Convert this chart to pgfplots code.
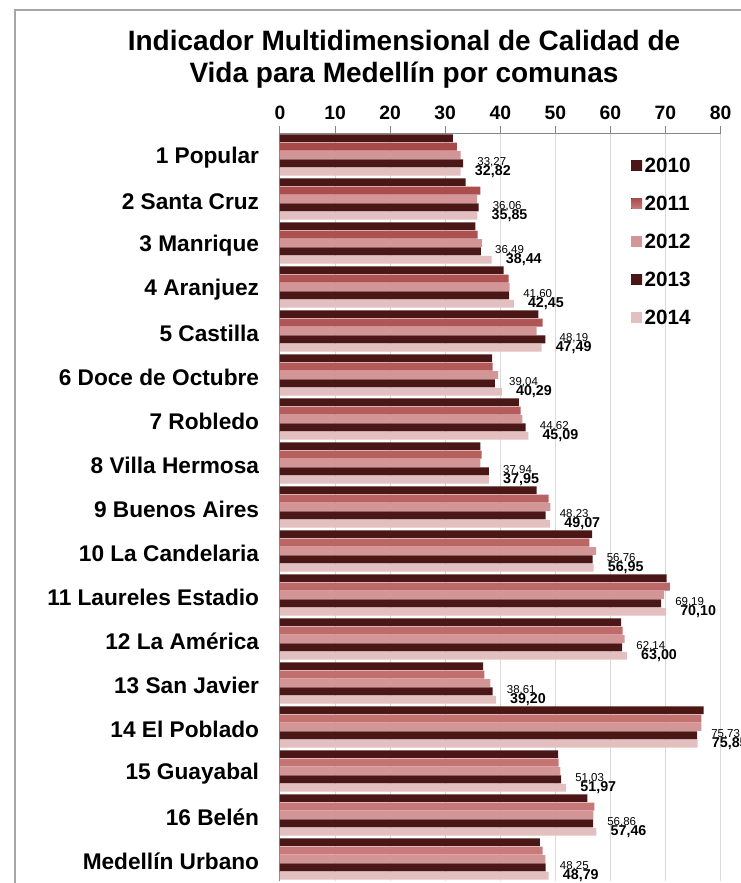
\documentclass[border=0pt]{standalone}
\usepackage{pgfplots}
\usepackage{pgfplotstable}
\pgfplotsset{compat=1.18}
\usepackage{fontspec}
\setmainfont{Liberation Sans}

\definecolor{dkA}{HTML}{4A1616}
\definecolor{dkB}{HTML}{843636}
\definecolor{mdA}{HTML}{A94A4A}
\definecolor{mdB}{HTML}{F2D4D4}
\definecolor{mdC}{HTML}{C97A7A}
\definecolor{pk}{HTML}{D39595}
\definecolor{lp}{HTML}{E3BFBF}
\definecolor{gridc}{HTML}{D9D9D9}
\definecolor{axc}{HTML}{868686}
\definecolor{framec}{HTML}{A6A6A6}

\pgfplotstableread{
y v2010 v2011 v2012 v2013 v2014
16 31.4 32.1 32.8 33.27 32.82
15 33.7 36.4 35.8 36.06 35.85
14 35.5 35.9 36.7 36.49 38.44
13 40.6 41.5 41.7 41.60 42.45
12 46.9 47.7 46.6 48.19 47.49
11 38.5 38.6 39.6 39.04 40.29
10 43.4 43.7 44.0 44.62 45.09
9 36.4 36.6 36.4 37.94 37.95
8 46.6 48.8 49.1 48.23 49.07
7 56.7 56.2 57.4 56.76 56.95
6 70.2 70.8 69.75 69.19 70.10
5 61.95 62.2 62.6 62.14 63.00
4 36.9 37.1 38.2 38.61 39.20
3 76.95 76.5 76.5 75.73 75.85
2 50.5 50.6 50.9 51.03 51.97
1 55.8 57.1 56.9 56.86 57.46
0 47.2 47.7 48.2 48.25 48.79
}\datatable

\begin{document}
\begin{tikzpicture}
\path[use as bounding box] (0,0) rectangle (555.75pt,-662.25pt);
\draw[framec, line width=1.1pt] (11.25pt,-7.5pt) rectangle (600pt,-700pt);
\node[align=center, font=\fontsize{21}{24.5}\selectfont\bfseries] at (303pt,-44.5pt)
  {Indicador Multidimensional de Calidad de\\Vida para Medellín por comunas};
\begin{axis}[
  at={(210pt,-99.75pt)}, anchor=north west,
  scale only axis, width=330.4pt, height=561pt,
  xmin=0, xmax=80, ymin=-0.5, ymax=16.5,
  axis x line*=top, axis y line*=left,
  axis line style={axc, line width=0.75pt},
  xtick={0,10,20,30,40,50,60,70,80},
  xticklabels={0,10,20,30,40,50,60,70,80},
  xticklabel pos=upper,
  xticklabel style={font=\fontsize{14.5}{17}\selectfont\bfseries, inner sep=0pt, yshift=4.5pt},
  xmajorgrids, grid style={gridc, line width=0.75pt},
  tick style={axc, line width=0.75pt},
  tick align=outside,
  major tick length=5pt,
  ytick={16,15,...,0},
  yticklabels={1 Popular,2 Santa Cruz,3 Manrique,4 Aranjuez,5 Castilla,6 Doce de Octubre,7 Robledo,8 Villa Hermosa,9 Buenos Aires,10 La Candelaria,11 Laureles Estadio,12 La América,13 San Javier,14 El Poblado,15 Guayabal,16 Belén,Medellín Urbano},
  yticklabel style={font=\fontsize{17}{20}\selectfont\bfseries, inner sep=0pt, xshift=-10.5pt, yshift=-2pt},
  y tick style={draw=none},
  minor ytick={-0.5,0.5,...,16.5},
  minor y tick style={axc, line width=0.75pt},
  minor tick length=5pt,
  xbar, bar width=0.18,
  legend style={at={(0.788,0.974)}, anchor=north west, draw=none, fill=none,
    font=\fontsize{15.5}{18}\selectfont\bfseries, row sep=13.5pt,
    nodes={text height=11pt, text depth=0pt, inner sep=2pt}},
  legend cell align=left,
  legend image code/.code={\fill[#1] (0pt,-4pt) rectangle (8pt,4pt);},
]
\addplot[draw=none, top color=dkA, middle color=dkB, bottom color=dkA, bar shift=0.38]
  table[x=v2010, y=y] {\datatable};
\addplot[draw=none, top color=mdA, middle color=mdB, bottom color=mdC, bar shift=0.19]
  table[x=v2011, y=y] {\datatable};
\addplot[draw=none, fill=pk, bar shift=0]
  table[x=v2012, y=y] {\datatable};
\addplot[draw=none, top color=dkA, middle color=dkB, bottom color=dkA, bar shift=-0.19,
  point meta=x, nodes near coords={\pgfmathprintnumber[fixed,fixed zerofill,precision=2,use comma,assume math mode=true]{\pgfplotspointmeta}},
  nodes near coords style={anchor=west, inner sep=0pt, xshift=10.5pt, yshift=0.6pt, text=black, font=\fontsize{8.6}{10}\selectfont}]
  table[x=v2013, y=y] {\datatable};
\addplot[draw=none, fill=lp, bar shift=-0.38,
  point meta=x, nodes near coords={\pgfmathprintnumber[fixed,fixed zerofill,precision=2,use comma,assume math mode=true]{\pgfplotspointmeta}},
  nodes near coords style={anchor=west, inner sep=0pt, xshift=10.5pt, text=black, font=\fontsize{10.7}{12}\selectfont\bfseries}]
  table[x=v2014, y=y] {\datatable};
\legend{2010,2011,2012,2013,2014}
\end{axis}
\end{tikzpicture}
\end{document}
